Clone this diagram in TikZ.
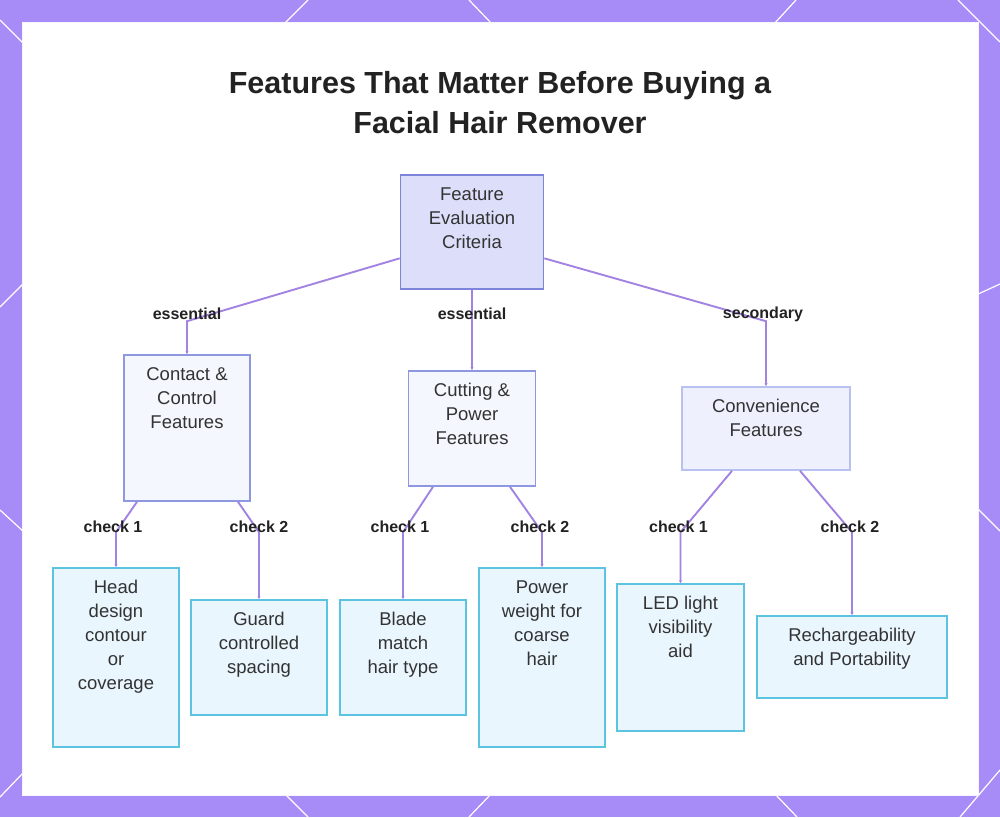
\documentclass[tikz,border=0pt]{standalone}
\usepackage{fontspec}
\setmainfont{Liberation Sans}
\usetikzlibrary{arrows.meta}
\definecolor{framecol}{HTML}{A78CF8}
\definecolor{edgecol}{HTML}{A283E2}
\definecolor{rootfill}{HTML}{DCDEFA}
\definecolor{rootdraw}{HTML}{7C84DC}
\definecolor{midfill}{HTML}{F5F7FE}
\definecolor{middraw}{HTML}{8E98E0}
\definecolor{convfill}{HTML}{EEF1FD}
\definecolor{convdraw}{HTML}{B9C1F0}
\definecolor{leaffill}{HTML}{EAF6FE}
\definecolor{leafdraw}{HTML}{5CC3E0}
\definecolor{txt}{HTML}{333333}
\definecolor{lbltxt}{HTML}{222222}
\tikzset{
  boxbase/.style={rectangle, line width=1.6pt, inner sep=0pt},
  rootbox/.style={boxbase, fill=rootfill, draw=rootdraw},
  midbox/.style={boxbase, fill=midfill, draw=middraw},
  convbox/.style={boxbase, fill=convfill, draw=convdraw},
  leafbox/.style={boxbase, fill=leaffill, draw=leafdraw},
  boxtext/.style={anchor=north, yshift=-13pt, inner sep=0pt, align=center, text=txt, font=\fontsize{18.5}{24}\selectfont},
  edge/.style={draw=edgecol, line width=1.9pt, -{Stealth[length=3pt,width=3pt]}},
  elabel/.style={font=\fontsize{16}{18}\selectfont\bfseries, text=lbltxt, inner sep=0pt},
  deco/.style={draw=white, line width=1.2pt}
}
\begin{document}
\begin{tikzpicture}[x=1pt,y=-1pt]
\useasboundingbox (0,0) rectangle (1000,817);
\fill[framecol] (0,0) rectangle (1000,817);
% white lattice lines on the frame
\draw[deco] (0,20) -- (24,44);
\draw[deco] (308,0) -- (284,24);
\draw[deco] (469,0) -- (492,24);
\draw[deco] (796,0) -- (774,24);
\draw[deco] (958,0) -- (1000,42);
\draw[deco] (0,307) -- (24,283);
\draw[deco] (0,510) -- (24,532);
\draw[deco] (0,797) -- (24,772);
\draw[deco] (976,295) -- (1000,284);
\draw[deco] (976,507) -- (1000,531);
\draw[deco] (960,817) -- (1000,770);
\draw[deco] (284,793) -- (308,817);
\draw[deco] (492,793) -- (469,817);
\draw[deco] (774,793) -- (797,817);
% panel
\fill[white] (22,22) rectangle (978,795);
\draw[white!90!framecol, line width=0.8pt] (22,22) rectangle (978,795);

% title
\node[align=center, text=lbltxt, font=\fontsize{30.5}{40}\selectfont\bfseries, inner sep=0pt] (title) at (500,103)
  {Features That Matter Before Buying a\\Facial Hair Remover};

% nodes
\node[rootbox, minimum width=143pt, minimum height=114pt,
  label={[boxtext]north:Feature\\Evaluation\\Criteria}] (root) at (472,232) {};
\node[midbox, minimum width=126pt, minimum height=146pt,
  label={[boxtext]north:Contact \&\\Control\\Features}] (contact) at (187,428) {};
\node[midbox, minimum width=127pt, minimum height=115pt,
  label={[boxtext]north:Cutting \&\\Power\\Features}] (cutting) at (472,428.5) {};
\node[convbox, minimum width=168pt, minimum height=83pt,
  label={[boxtext]north:Convenience\\Features}] (conv) at (766,428.5) {};
\node[leafbox, minimum width=126pt, minimum height=179pt,
  label={[boxtext]north:Head\\design\\contour\\or\\coverage}] (head) at (116,657.5) {};
\node[leafbox, minimum width=136pt, minimum height=115pt,
  label={[boxtext]north:Guard\\controlled\\spacing}] (guard) at (259,657.5) {};
\node[leafbox, minimum width=126pt, minimum height=115pt,
  label={[boxtext]north:Blade\\match\\hair type}] (blade) at (403,657.5) {};
\node[leafbox, minimum width=126pt, minimum height=179pt,
  label={[boxtext]north:Power\\weight for\\coarse\\hair}] (power) at (542,657.5) {};
\node[leafbox, minimum width=127pt, minimum height=147pt,
  label={[boxtext]north:LED light\\visibility\\aid}] (led) at (680.5,657.5) {};
\node[leafbox, minimum width=190pt, minimum height=82pt,
  label={[boxtext]north:Rechargeability\\and Portability}] (rech) at (852,657) {};

% connectors
\draw[edge] (root.200) -- ([yshift=33pt]contact.north) node[elabel, yshift=7pt] (l1) {essential} -- (contact.north);
\draw[edge] (root.south) -- (cutting.north) node[elabel, pos=0.30] (l2) {essential};
\draw[edge] (root.-20) -- ([yshift=65pt]conv.north) node[elabel, yshift=7pt, xshift=-3pt] (l3) {secondary} -- (conv.north);

\draw[edge] ([xshift=-50pt]contact.south) -- ([yshift=35pt]head.north) node[elabel, yshift=5pt, xshift=-3pt] (l4) {check 1} -- (head.north);
\draw[edge] ([xshift=51pt]contact.south) -- ([yshift=67pt]guard.north) node[elabel, yshift=5pt] (l5) {check 2} -- (guard.north);
\draw[edge] ([xshift=-39pt]cutting.south) -- ([yshift=67pt]blade.north) node[elabel, yshift=5pt, xshift=-3pt] (l6) {check 1} -- (blade.north);
\draw[edge] ([xshift=38pt]cutting.south) -- ([yshift=35pt]power.north) node[elabel, yshift=5pt, xshift=-2pt] (l7) {check 2} -- (power.north);
\draw[edge] ([xshift=-34pt]conv.south) -- ([yshift=51pt]led.north) node[elabel, yshift=5pt, xshift=-2pt] (l8) {check 1} -- (led.north);
\draw[edge] ([xshift=34pt]conv.south) -- ([yshift=83pt]rech.north) node[elabel, yshift=5pt, xshift=-2pt] (l9) {check 2} -- (rech.north);
\end{tikzpicture}
\end{document}
